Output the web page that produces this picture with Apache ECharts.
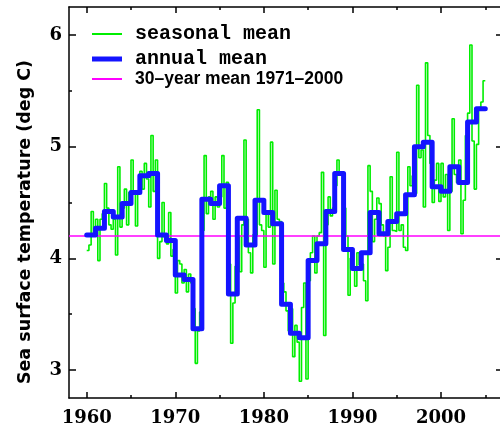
<!DOCTYPE html>
<html>
<head>
<meta charset="utf-8">
<script src="https://cdn.jsdelivr.net/npm/echarts@6/dist/echarts.min.js"></script>
<style>
html,body{margin:0;padding:0;background:#fff;overflow:hidden;width:500px;height:433px;}
#c{width:504px;height:433px;}
</style>
</head>
<body>
<div id="c"></div>
<script>
// ---- data ----
const firstYear = 1960;
// seasonal means, 4 per year, 1960..2004
const seasonal = [
  [4.07, 4.12, 4.42, 4.20], // 1960
  [4.35, 3.98, 4.35, 4.40], // 1961
  [4.67, 4.45, 4.30, 4.26], // 1962
  [4.35, 4.03, 4.82, 4.28], // 1963
  [4.45, 4.62, 4.30, 4.59], // 1964
  [4.88, 4.60, 4.29, 4.59], // 1965
  [4.78, 4.62, 4.85, 4.71], // 1966
  [4.46, 5.10, 4.60, 4.88], // 1967
  [4.00, 4.15, 4.50, 4.19], // 1968
  [4.13, 4.41, 4.02, 4.08], // 1969
  [3.69, 3.98, 3.95, 3.78], // 1970
  [3.90, 3.70, 3.86, 3.78], // 1971
  [3.55, 3.06, 3.35, 3.52], // 1972
  [4.25, 4.92, 4.40, 4.55], // 1973
  [4.60, 4.35, 4.55, 4.46], // 1974
  [4.55, 4.92, 4.45, 4.68], // 1975
  [3.95, 3.24, 3.60, 3.93], // 1976
  [4.20, 3.88, 4.30, 5.06], // 1977
  [4.35, 4.05, 3.87, 4.21], // 1978
  [4.20, 5.33, 4.30, 4.25], // 1979
  [3.92, 4.40, 4.28, 5.04], // 1980
  [3.95, 4.61, 4.35, 4.33], // 1981
  [3.78, 3.70, 3.53, 3.35], // 1982
  [3.55, 3.12, 3.40, 3.25], // 1983
  [2.90, 3.56, 3.78, 2.92], // 1984
  [3.80, 4.05, 4.20, 3.87], // 1985
  [4.20, 4.23, 4.77, 3.31], // 1986
  [4.30, 4.55, 4.38, 4.45], // 1987
  [4.65, 4.88, 4.75, 4.76], // 1988
  [4.45, 4.20, 3.67, 4.00], // 1989
  [3.90, 3.75, 4.05, 3.94], // 1990
  [3.95, 3.80, 3.62, 4.83], // 1991
  [4.60, 4.15, 4.35, 4.54], // 1992
  [4.49, 4.30, 4.20, 3.89], // 1993
  [4.10, 4.73, 4.25, 4.24], // 1994
  [4.95, 4.25, 4.30, 4.10], // 1995
  [4.07, 4.82, 4.65, 4.74], // 1996
  [4.58, 5.55, 4.90, 4.97], // 1997
  [4.46, 5.75, 5.10, 4.85], // 1998
  [4.50, 4.70, 4.85, 4.51], // 1999
  [4.85, 4.55, 4.75, 4.25], // 2000
  [4.60, 5.25, 4.75, 4.68], // 2001
  [4.88, 4.22, 4.52, 5.10], // 2002
  [5.30, 5.91, 5.05, 4.62], // 2003
  [5.02, 5.35, 5.40, 5.59]  // 2004
];
// annual means 1960..2004
const annual = [
  4.21, 4.27, 4.42, 4.37, 4.49, 4.59, 4.74, 4.76, 4.21, 4.16,
  3.85, 3.81, 3.37, 4.53, 4.49, 4.65, 3.68, 4.36, 4.12, 4.52,
  4.41, 4.31, 3.59, 3.33, 3.29, 3.98, 4.13, 4.42, 4.76, 4.08,
  3.91, 4.05, 4.41, 4.22, 4.33, 4.40, 4.57, 5.00, 5.04, 4.64,
  4.60, 4.82, 4.68, 5.22, 5.34
];
const baseline = 4.2; // 30-year mean 1971-2000
const xMin = 1958, xMax = 2007;
const yMin = 2.75, yMax = 6.25;
const xMajor = [1960, 1970, 1980, 1990, 2000];
const xMinor = [1965, 1975, 1985, 1995, 2005];
const yMajor = [3, 4, 5, 6];
const yMinor = [3.5, 4.5, 5.5];
const names = ['seasonal mean', 'annual mean', '30\u2013year mean 1971\u20132000'];
const yTitle = 'Sea surface temperature (deg C)';

// ---- build series data ----
const seasData = [];
seasonal.forEach((q, i) => {
  q.forEach((v, j) => seasData.push([firstYear + i + j / 4, v]));
});
seasData.push([firstYear + seasonal.length, seasonal[seasonal.length - 1][3]]);
const annData = annual.map((v, i) => [firstYear + i, v]);
annData.push([firstYear + annual.length, annual[annual.length - 1]]);
const baseData = [[xMin, baseline], [xMax, baseline]];

const black = '#000';
const GREEN = '#00ee00', BLUE = '#1414ff', MAG = '#ff00ff';
function xAx(pos, vals, len, showLine, showLabel) {
  return {
    type: 'value', position: pos, min: xMin, max: xMax,
    axisLine: {show: showLine, onZero: false, lineStyle: {color: black, width: 1.5}},
    axisTick: {show: true, inside: true, length: len, customValues: vals, lineStyle: {color: black, width: 1.5}},
    axisLabel: {show: showLabel, customValues: vals, margin: 11, color: black,
      fontFamily: 'DejaVu Serif', fontWeight: 'bold', fontSize: 18, formatter: v => String(v)},
    splitLine: {show: false}
  };
}
function yAx(pos, vals, len, showLine, showLabel) {
  return {
    type: 'value', position: pos, min: yMin, max: yMax,
    axisLine: {show: showLine, onZero: false, lineStyle: {color: black, width: 1.5}},
    axisTick: {show: true, inside: true, length: len, customValues: vals, lineStyle: {color: black, width: 1.5}},
    axisLabel: {show: showLabel, customValues: vals, margin: 7, color: black,
      fontFamily: 'DejaVu Serif', fontWeight: 'bold', fontSize: 18, formatter: v => String(v)},
    splitLine: {show: false}
  };
}

function legendFor(name, top, thick, font, size) {
  return {
    data: [name], left: 92, top: top, padding: 0, orient: 'vertical',
    icon: 'rect', itemWidth: 30, itemHeight: thick, selectedMode: false,
    textStyle: {color: black, padding: [0, 0, 0, 8], fontFamily: font, fontSize: size, fontWeight: 'bold'}
  };
}

const chart = echarts.init(document.getElementById('c'), null, {renderer: 'canvas'});
chart.setOption({
  backgroundColor: '#fff',
  animation: false,
  grid: {left: 69, right: 1, top: 7, bottom: 35},
  xAxis: [
    xAx('bottom', xMajor, 6, true, true),
    xAx('bottom', xMinor, 3, false, false),
    xAx('top', xMajor, 6, true, false),
    xAx('top', xMinor, 3, false, false)
  ],
  yAxis: [
    yAx('left', yMajor, 7, true, true),
    yAx('left', yMinor, 3, false, false),
    yAx('right', yMajor, 7, true, false),
    yAx('right', yMinor, 3, false, false)
  ],
  legend: [
    legendFor(names[0], 24, 2, 'Liberation Mono', 20),
    legendFor(names[1], 49, 5, 'Liberation Mono', 20),
    legendFor(names[2], 70, 2, 'Liberation Sans', 17.5)
  ],
  graphic: [{
    type: 'text', x: 25, y: 222, rotation: Math.PI / 2,
    style: {text: yTitle, fontFamily: 'DejaVu Sans', fontWeight: 'bold', fontSize: 17.5,
      fill: black, align: 'center', verticalAlign: 'middle'}
  }],
  series: [
    {name: names[0], type: 'line', step: 'end', data: seasData, symbol: 'none',
      lineStyle: {color: GREEN, width: 1.6}, itemStyle: {color: GREEN}, z: 2},
    {name: names[2], type: 'line', data: baseData, symbol: 'none',
      lineStyle: {color: MAG, width: 1.5}, itemStyle: {color: MAG}, z: 3},
    {name: names[1], type: 'line', step: 'end', data: annData, symbol: 'none',
      lineStyle: {color: BLUE, width: 5, join: 'round', cap: 'round'}, itemStyle: {color: BLUE}, z: 4}
  ]
});
</script>
</body>
</html>
